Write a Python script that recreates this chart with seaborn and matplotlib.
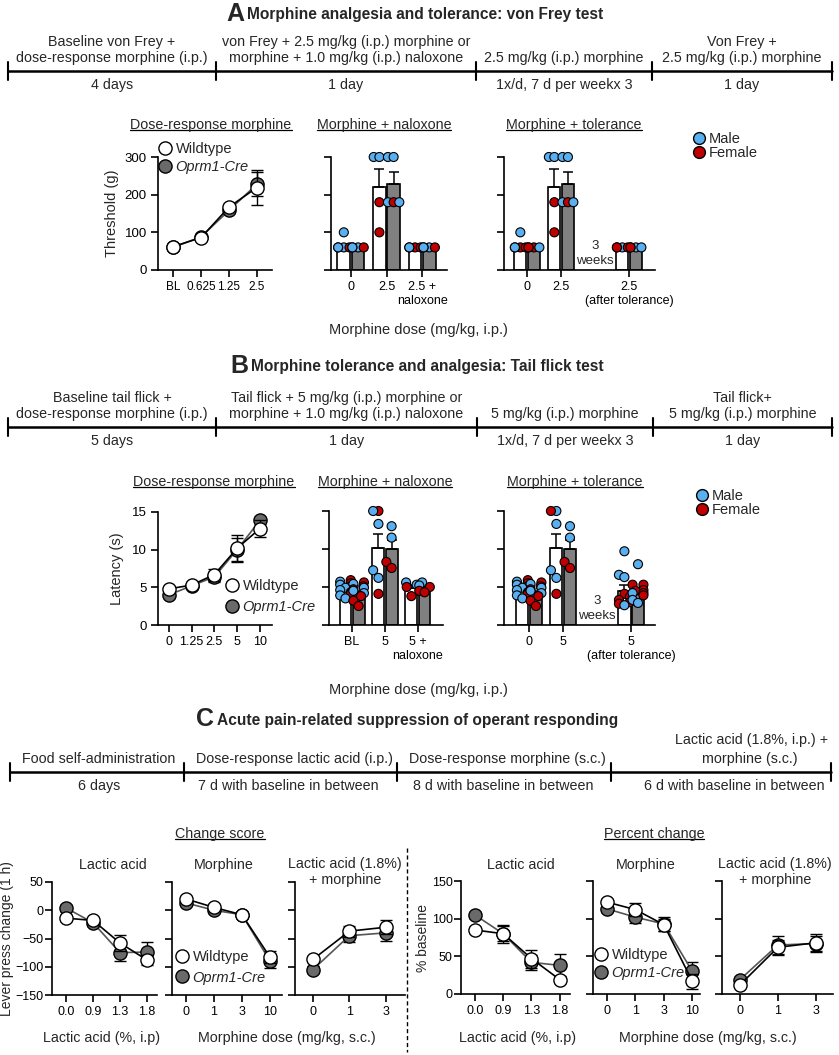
# Morphine analgesia / tolerance and operant responding figure
import numpy as np
import pandas as pd
import seaborn as sns
import matplotlib.pyplot as plt
from matplotlib.lines import Line2D

# ---------------- data ----------------
# A: von Frey dose-response
a_dr_doses = ["BL", "0.625", "1.25", "2.5"]
a_dr_wt = [62, 86, 167, 219]
a_dr_wt_sem = [4, 5, 7, 47]
a_dr_cre = [60, 88, 158, 228]
a_dr_cre_sem = [4, 5, 6, 31]

# A: morphine + naloxone (bars = mean, sem up; dots = animals)
a_nal_groups = ["0", "2.5", "2.5 +\nnaloxone"]
a_nal_wt_mean = [62, 220, 60]
a_nal_wt_sem = [6, 47, 0]
a_nal_cre_mean = [60, 228, 60]
a_nal_cre_sem = [0, 31, 0]
a_nal_wt_dots = [[60, 60, 60, 60, 100], [300, 300, 180, 100], [60, 60, 60, 60]]
a_nal_wt_sex = [["M", "F", "F", "M", "M"], ["M", "M", "F", "F"], ["F", "F", "F", "M"]]
a_nal_cre_dots = [[60, 60, 60, 60], [300, 300, 180, 180, 180], [60, 60, 60, 60]]
a_nal_cre_sex = [["M", "F", "F", "M"], ["M", "M", "M", "F", "M"], ["M", "F", "F", "M"]]

# A: morphine + tolerance
a_tol_groups = ["0", "2.5", "2.5\n(after tolerance)"]
a_tol_wt_mean = [62, 220, 60]
a_tol_wt_sem = [6, 47, 0]
a_tol_cre_mean = [60, 228, 60]
a_tol_cre_sem = [0, 31, 0]
a_tol_wt_dots = [[60, 60, 60, 60, 100], [300, 300, 180, 100], [60, 60, 60, 60]]
a_tol_wt_sex = [["F", "F", "F", "M", "M"], ["M", "M", "F", "F"], ["M", "F", "F", "F"]]
a_tol_cre_dots = [[60, 60, 60, 60], [300, 300, 180, 180, 180], [60, 60, 60, 60]]
a_tol_cre_sex = [["F", "M", "M", "F"], ["M", "M", "M", "F", "M"], ["M", "M", "M", "F"]]

# B: tail flick dose-response
b_dr_doses = ["0", "1.25", "2.5", "5", "10"]
b_dr_wt = [4.8, 5.3, 6.7, 10.2, 12.8]
b_dr_wt_sem = [0.3, 0.3, 0.8, 1.8, 1.1]
b_dr_cre = [4.0, 5.2, 6.4, 10.0, 13.9]
b_dr_cre_sem = [0.3, 0.3, 0.7, 1.5, 0.4]

# B: morphine + naloxone
b_nal_groups = ["BL", "5", "5 +\nnaloxone"]
b_nal_wt_mean = [4.7, 10.1, 4.9]
b_nal_wt_sem = [0.25, 1.9, 0.4]
b_nal_cre_mean = [4.2, 10.0, 4.7]
b_nal_cre_sem = [0.3, 1.2, 0.3]
b_nal_wt_dots = [[5.9, 5.7, 5.5, 5.3, 5.1, 4.9, 4.6, 4.3, 4.1, 3.9, 3.5],
                 [15.0, 15.0, 13.3, 7.2, 6.2, 4.1],
                 [5.6, 5.3, 5.0, 3.8]]
b_nal_wt_sex = [["F", "M", "F", "M", "F", "M", "M", "F", "F", "M", "M"],
                ["F", "M", "M", "M", "M", "F"],
                ["M", "M", "F", "F"]]
b_nal_cre_dots = [[5.6, 5.4, 5.1, 4.9, 4.7, 4.5, 4.2, 3.8, 3.2, 2.5],
                  [13.0, 11.5, 8.3, 7.5],
                  [5.6, 5.2, 5.0, 4.5, 4.3]]
b_nal_cre_sex = [["F", "M", "F", "M", "F", "M", "M", "F", "F", "F"],
                 ["M", "M", "F", "F"],
                 ["M", "M", "F", "F", "F"]]

# B: morphine + tolerance
b_tol_groups = ["0", "5", "5\n(after tolerance)"]
b_tol_wt_mean = [4.7, 10.1, 4.5]
b_tol_wt_sem = [0.25, 1.9, 0.8]
b_tol_cre_mean = [4.2, 10.0, 4.5]
b_tol_cre_sem = [0.3, 1.2, 0.4]
b_tol_wt_dots = [[5.9, 5.7, 5.5, 5.3, 5.1, 4.9, 4.6, 4.3, 4.1, 3.9, 3.5],
                 [15.0, 15.0, 13.3, 7.2, 6.2, 4.1],
                 [9.7, 6.6, 6.3, 4.1, 3.7, 3.3, 3.0, 2.8, 2.6]]
b_tol_wt_sex = [["F", "M", "F", "M", "F", "M", "M", "F", "F", "M", "M"],
                ["M", "F", "M", "M", "M", "F"],
                ["M", "M", "M", "F", "F", "F", "F", "F", "M"]]
b_tol_cre_dots = [[5.6, 5.4, 5.1, 4.9, 4.7, 4.5, 4.2, 3.8, 3.2, 2.5],
                  [13.0, 11.5, 8.3, 7.5],
                  [8.0, 5.3, 5.3, 4.6, 4.5, 4.2, 4.2, 3.9, 3.3, 2.9]]
b_tol_cre_sex = [["F", "M", "F", "M", "F", "M", "M", "F", "F", "F"],
                 ["M", "M", "F", "F"],
                 ["M", "F", "F", "F", "F", "F", "M", "F", "M", "M"]]

# C: change score
c_lactic_doses = ["0.0", "0.9", "1.3", "1.8"]
c_morph_doses = ["0", "1", "3", "10"]
c_combo_doses = ["0", "1", "3"]
c_cs_lac_wt = [-14, -18, -58, -88]
c_cs_lac_wt_sem = [5, 5, 15, 9]
c_cs_lac_cre = [4, -22, -75, -74]
c_cs_lac_cre_sem = [5, 5, 15, 18]
c_cs_mor_wt = [20, 5, -8, -83]
c_cs_mor_wt_sem = [4, 4, 3, 10]
c_cs_mor_cre = [13, 0, -8, -90]
c_cs_mor_cre_sem = [4, 4, 3, 12]
c_cs_com_wt = [-87, -37, -30]
c_cs_com_wt_sem = [5, 10, 12]
c_cs_com_cre = [-105, -45, -40]
c_cs_com_cre_sem = [6, 12, 14]

# C: percent change
c_pc_lac_wt = [85, 80, 47, 19]
c_pc_lac_wt_sem = [4, 12, 12, 5]
c_pc_lac_cre = [105, 80, 42, 38]
c_pc_lac_cre_sem = [4, 10, 10, 15]
c_pc_mor_wt = [122, 112, 92, 17]
c_pc_mor_wt_sem = [4, 9, 8, 10]
c_pc_mor_cre = [113, 102, 93, 30]
c_pc_mor_cre_sem = [4, 8, 9, 12]
c_pc_com_wt = [12, 62, 68]
c_pc_com_wt_sem = [3, 10, 12]
c_pc_com_cre = [19, 65, 67]
c_pc_com_cre_sem = [3, 12, 10]

# timelines
a_tl_above = ["Baseline von Frey +\ndose-response morphine (i.p.)",
              "von Frey + 2.5 mg/kg (i.p.) morphine or\nmorphine + 1.0 mg/kg (i.p.) naloxone",
              "2.5 mg/kg (i.p.) morphine",
              "Von Frey +\n2.5 mg/kg (i.p.) morphine"]
a_tl_below = ["4 days", "1 day", "1x/d, 7 d per weekx 3", "1 day"]
b_tl_above = ["Baseline tail flick +\ndose-response morphine (i.p.)",
              "Tail flick + 5 mg/kg (i.p.) morphine or\nmorphine + 1.0 mg/kg (i.p.) naloxone",
              "5 mg/kg (i.p.) morphine",
              "Tail flick+\n5 mg/kg (i.p.) morphine"]
b_tl_below = ["5 days", "1 day", "1x/d, 7 d per weekx 3", "1 day"]
c_tl_above = ["Food self-administration", "Dose-response lactic acid (i.p.)",
              "Dose-response morphine (s.c.)", "Lactic acid (1.8%, i.p.) +\nmorphine (s.c.)"]
c_tl_below = ["6 days", "7 d with baseline in between",
              "8 d with baseline in between", "6 d with baseline in between"]

# ---------------- style ----------------
sns.set_style("ticks")
REG = ['Liberation Sans', 'DejaVu Sans']
plt.rcParams['font.family'] = REG
plt.rcParams['font.size'] = 10

SEX_PAL = {"M": "#5aaff0", "F": "#c00000"}
CRE_GRAY = "#6a6a6a"
BAR_GRAY = "#808080"
TL_SIZE = 10.3

W, H = 839, 1055
fig = plt.figure(figsize=(W / 100, H / 100), dpi=100)


def px_axes(x0, y0, x1, y1):
    return fig.add_axes([x0 / W, 1 - y1 / H, (x1 - x0) / W, (y1 - y0) / H])


def ftext(x, y, s, **kw):
    kw.setdefault('ha', 'center')
    kw.setdefault('va', 'center')
    return fig.text(x / W, 1 - y / H, s, **kw)


def style_ax(ax, ylim, yticks, ylabels, xlim, xticks, xlabels, xsize=9):
    ax.set_ylim(*ylim)
    ax.set_yticks(yticks)
    if not ylabels:
        ax.set_yticklabels([])
    ax.set_xlim(*xlim)
    ax.set_xticks(xticks)
    ax.set_xticklabels(xlabels)
    sns.despine(ax=ax)
    for s in ['left', 'bottom']:
        ax.spines[s].set_linewidth(1.2)
        ax.spines[s].set_color('black')
    ax.tick_params(direction='out', length=5, width=1.2, colors='black',
                   labelsize=9.5, pad=3)
    ax.tick_params(axis='x', labelsize=xsize)
    ax.set_xlabel('')
    ax.set_ylabel('')
    ax.patch.set_alpha(0)


def dose_lines(ax, wt, wt_sem, cre, cre_sem):
    pos = np.arange(len(wt))
    for vals, sem, face, lc, z in [(cre, cre_sem, CRE_GRAY, '#555555', 3),
                                   (wt, wt_sem, 'white', 'black', 4)]:
        ax.errorbar(pos, vals, yerr=sem, fmt='none', ecolor='black',
                    elinewidth=1, capsize=4, capthick=1, zorder=z)
        sns.lineplot(x=pos, y=vals, ax=ax, color=lc, linewidth=1.2, marker='o',
                     markersize=9.5, markerfacecolor=face, markeredgecolor='black',
                     markeredgewidth=1, zorder=z)


def bar_panel(ax, gpos, wt_mean, wt_sem, cre_mean, cre_sem,
              wt_dots, wt_sex, cre_dots, cre_sex, off=0.2):
    gpos = np.asarray(gpos, dtype=float)
    for sgn, mean, sem, col in [(-1, wt_mean, wt_sem, 'white'),
                                (1, cre_mean, cre_sem, BAR_GRAY)]:
        x = gpos + sgn * off
        sns.barplot(x=x, y=mean, native_scale=True, width=0.36, color=col,
                    saturation=1, edgecolor='black', linewidth=1.2,
                    errorbar=None, orient='x', ax=ax, zorder=2)
        ax.errorbar(x, mean, yerr=[np.zeros(len(sem)), sem], fmt='none',
                    ecolor='black', elinewidth=1.1, capsize=3.5, capthick=1.1,
                    zorder=3)
    rows = []
    for i, g in enumerate(gpos):
        for v, s in zip(wt_dots[i], wt_sex[i]):
            rows.append((g - off, v, s))
        for v, s in zip(cre_dots[i], cre_sex[i]):
            rows.append((g + off, v, s))
    df = pd.DataFrame(rows, columns=['x', 'y', 'sex'])
    sns.swarmplot(data=df, x='x', y='y', hue='sex', palette=SEX_PAL,
                  native_scale=True, orient='x', size=6.5, edgecolor='black',
                  linewidth=0.8, legend=False, ax=ax, zorder=5, clip_on=False,
                  warn_thresh=1)


def geno_legend(ax, x, y, spacing):
    h = [Line2D([], [], ls='none', marker='o', markersize=9.5, mfc='white', mec='black'),
         Line2D([], [], ls='none', marker='o', markersize=9.5, mfc=CRE_GRAY, mec='black')]
    leg = ax.legend(h, ['Wildtype', 'Oprm1-Cre'], loc='upper left',
                    bbox_to_anchor=(x / W, 1 - y / H), bbox_transform=fig.transFigure,
                    frameon=False, handlelength=0.9, handletextpad=0.3,
                    labelspacing=spacing, borderpad=0, borderaxespad=0, fontsize=10.5)
    leg.get_texts()[1].set_fontstyle('italic')


def sex_legend(x, y):
    h = [Line2D([], [], ls='none', marker='o', markersize=8.5, mfc=SEX_PAL['M'], mec='black'),
         Line2D([], [], ls='none', marker='o', markersize=8.5, mfc=SEX_PAL['F'], mec='black')]
    fig.legend(h, ['Male', 'Female'], loc='upper left', bbox_to_anchor=(x / W, 1 - y / H),
               frameon=False, handlelength=0.7, handletextpad=0.3, labelspacing=0.0,
               borderpad=0, borderaxespad=0, fontsize=10.5)


underlined = []


def utitle(x, y, s):
    underlined.append(ftext(x, y, s, fontsize=10.3))


def timeline(ticks, y, above, below, above_x=None, below_x=None):
    fig.add_artist(Line2D([ticks[0] / W, ticks[-1] / W], [1 - y / H] * 2, color='black', lw=1.8))
    for t in ticks:
        fig.add_artist(Line2D([t / W] * 2, [1 - (y - 9) / H, 1 - (y + 9) / H], color='black', lw=1.5))
    mids = [(ticks[i] + ticks[i + 1]) / 2 for i in range(len(above))]
    above_x = above_x or mids
    below_x = below_x or mids
    for i in range(len(above)):
        ftext(above_x[i], y - 6, above[i], va='bottom', fontsize=TL_SIZE, linespacing=1.15)
        ftext(below_x[i], y + 7, below[i], va='top', fontsize=TL_SIZE)


def panel_title(xl, y, letter, text):
    ftext(xl, y, letter, ha='left', fontsize=18, fontweight='bold')
    ftext(xl + 21, y + 1, text, ha='left', fontsize=11.2, fontweight='bold')


# ---------------- panel A ----------------
panel_title(226, 14, "A", "Morphine analgesia and tolerance: von Frey test")
timeline([8, 216, 476, 652, 832], 71, a_tl_above, a_tl_below)

ax = px_axes(158, 157, 272, 270)
dose_lines(ax, a_dr_wt, a_dr_wt_sem, a_dr_cre, a_dr_cre_sem)
style_ax(ax, (0, 300), [0, 100, 200, 300], True, (-0.54, 3.54), range(4), a_dr_doses,
         xsize=8.5)
ax.set_ylabel("Threshold (g)", fontsize=10.5, labelpad=4)
geno_legend(ax, 158, 142, 0.25)
utitle(211, 125, "Dose-response morphine")

ax = px_axes(331, 157, 447, 270)
bar_panel(ax, [0, 1, 2], a_nal_wt_mean, a_nal_wt_sem, a_nal_cre_mean, a_nal_cre_sem,
          a_nal_wt_dots, a_nal_wt_sex, a_nal_cre_dots, a_nal_cre_sex)
style_ax(ax, (0, 300), [0, 100, 200, 300], False, (-0.56, 2.70), [0, 1, 2], a_nal_groups)
utitle(384, 125, "Morphine + naloxone")

ax = px_axes(504, 157, 655, 270)
bar_panel(ax, [0, 1, 3], a_tol_wt_mean, a_tol_wt_sem, a_tol_cre_mean, a_tol_cre_sem,
          a_tol_wt_dots, a_tol_wt_sex, a_tol_cre_dots, a_tol_cre_sex)
style_ax(ax, (0, 300), [0, 100, 200, 300], False, (-0.68, 3.76), [0, 1, 3], a_tol_groups)
ax.text(2, 44, "3\nweeks", ha='center', va='center', fontsize=9.5, linespacing=1.3)
utitle(574, 125, "Morphine + tolerance")
sex_legend(694, 132)
ftext(418, 330, "Morphine dose (mg/kg, i.p.)", fontsize=10.5)

# ---------------- panel B ----------------
panel_title(230, 366, "B", "Morphine tolerance and analgesia: Tail flick test")
timeline([8, 216, 477, 653, 832], 427, b_tl_above, b_tl_below)

ax = px_axes(158, 512, 272, 625)
dose_lines(ax, b_dr_wt, b_dr_wt_sem, b_dr_cre, b_dr_cre_sem)
style_ax(ax, (0, 15), [0, 5, 10, 15], True, (-0.48, 4.53), range(5), b_dr_doses)
ax.set_ylabel("Latency (s)", fontsize=10.5, labelpad=6)
geno_legend(ax, 225, 579, 0.5)
utitle(214, 482, "Dose-response morphine")

ax = px_axes(329, 511, 443, 625)
bar_panel(ax, [0, 1, 2], b_nal_wt_mean, b_nal_wt_sem, b_nal_cre_mean, b_nal_cre_sem,
          b_nal_wt_dots, b_nal_wt_sex, b_nal_cre_dots, b_nal_cre_sex)
style_ax(ax, (0, 15), [0, 5, 10, 15], False, (-0.70, 2.76), [0, 1, 2], b_nal_groups)
utitle(385, 482, "Morphine + naloxone")

ax = px_axes(504, 511, 655, 625)
bar_panel(ax, [0, 1, 3], b_tol_wt_mean, b_tol_wt_sem, b_tol_cre_mean, b_tol_cre_sem,
          b_tol_wt_dots, b_tol_wt_sex, b_tol_cre_dots, b_tol_cre_sex)
style_ax(ax, (0, 15), [0, 5, 10, 15], False, (-0.74, 3.70), [0, 1, 3], b_tol_groups)
ax.text(2, 2.2, "3\nweeks", ha='center', va='center', fontsize=9.5, linespacing=1.3)
utitle(575, 482, "Morphine + tolerance")
sex_legend(697, 489)
ftext(418, 690, "Morphine dose (mg/kg, i.p.)", fontsize=10.5)

# ---------------- panel C ----------------
panel_title(196, 719, "C", "Acute pain-related suppression of operant responding")
ftext(752, 740, "Lactic acid (1.8%, i.p.) +", fontsize=TL_SIZE)
timeline([10, 184, 397, 611, 831], 772,
         c_tl_above[:3] + ["morphine (s.c.)"], c_tl_below,
         above_x=[99, 295, 507, 750], below_x=[99, 288, 503, 734])

cs_lim, cs_ticks = (-150, 50), [-150, -100, -50, 0, 50]
pc_lim, pc_ticks = (0, 150), [0, 50, 100, 150]

ax = px_axes(52, 882, 157, 995)
dose_lines(ax, c_cs_lac_wt, c_cs_lac_wt_sem, c_cs_lac_cre, c_cs_lac_cre_sem)
style_ax(ax, cs_lim, cs_ticks, True, (-0.52, 3.37), range(4), c_lactic_doses)
ax.tick_params(axis='y', labelsize=9, pad=1)
ax.set_ylabel("Lever press change (1 h)", fontsize=10, labelpad=1)

ax = px_axes(172, 882, 282, 995)
dose_lines(ax, c_cs_mor_wt, c_cs_mor_wt_sem, c_cs_mor_cre, c_cs_mor_cre_sem)
style_ax(ax, cs_lim, cs_ticks, False, (-0.5, 3.43), range(4), c_morph_doses)
geno_legend(ax, 175, 950, 0.45)

ax = px_axes(295, 882, 405, 995)
dose_lines(ax, c_cs_com_wt, c_cs_com_wt_sem, c_cs_com_cre, c_cs_com_cre_sem)
style_ax(ax, cs_lim, cs_ticks, False, (-0.49, 2.52), range(3), c_combo_doses)

ax = px_axes(461, 881, 570, 994)
dose_lines(ax, c_pc_lac_wt, c_pc_lac_wt_sem, c_pc_lac_cre, c_pc_lac_cre_sem)
style_ax(ax, pc_lim, pc_ticks, True, (-0.49, 3.36), range(4), c_lactic_doses)
ax.tick_params(axis='y', labelsize=9, pad=1)
ax.set_ylabel("% baseline", fontsize=10, labelpad=1)

ax = px_axes(593, 881, 700, 994)
dose_lines(ax, c_pc_mor_wt, c_pc_mor_wt_sem, c_pc_mor_cre, c_pc_mor_cre_sem)
style_ax(ax, pc_lim, pc_ticks, False, (-0.49, 3.27), range(4), c_morph_doses)
geno_legend(ax, 594, 948, 0.3)

ax = px_axes(722, 881, 833, 994)
dose_lines(ax, c_pc_com_wt, c_pc_com_wt_sem, c_pc_com_cre, c_pc_com_cre_sem)
style_ax(ax, pc_lim, pc_ticks, False, (-0.47, 2.45), range(3), c_combo_doses)

for cx, s in [(113, "Lactic acid"), (224, "Morphine"), (521, "Lactic acid"), (646, "Morphine")]:
    ftext(cx, 865, s, fontsize=10.3)
for cx in [345, 775]:
    ftext(cx, 872, "Lactic acid (1.8%)\n+ morphine", fontsize=10.3, linespacing=1.15)
for cx, s in [(102, "Lactic acid (%, i.p)"), (287, "Morphine dose (mg/kg, s.c.)"),
              (518, "Lactic acid (%, i.p)"), (708, "Morphine dose (mg/kg, s.c.)")]:
    ftext(cx, 1038, s, fontsize=10.3)
utitle(220, 834, "Change score")
utitle(654, 834, "Percent change")
fig.add_artist(Line2D([407 / W] * 2, [1 - 848 / H, 1 - 1052 / H], color='black',
                      lw=1, ls=(0, (3, 2))))

# underline the section titles
fig.canvas.draw()
r = fig.canvas.get_renderer()
for t in underlined:
    bb = t.get_window_extent(r)
    yy = (bb.y0 + 2) / H
    fig.add_artist(Line2D([bb.x0 / W, bb.x1 / W], [yy, yy], color='black', lw=0.9))

fig.savefig("out.png", dpi=100)
